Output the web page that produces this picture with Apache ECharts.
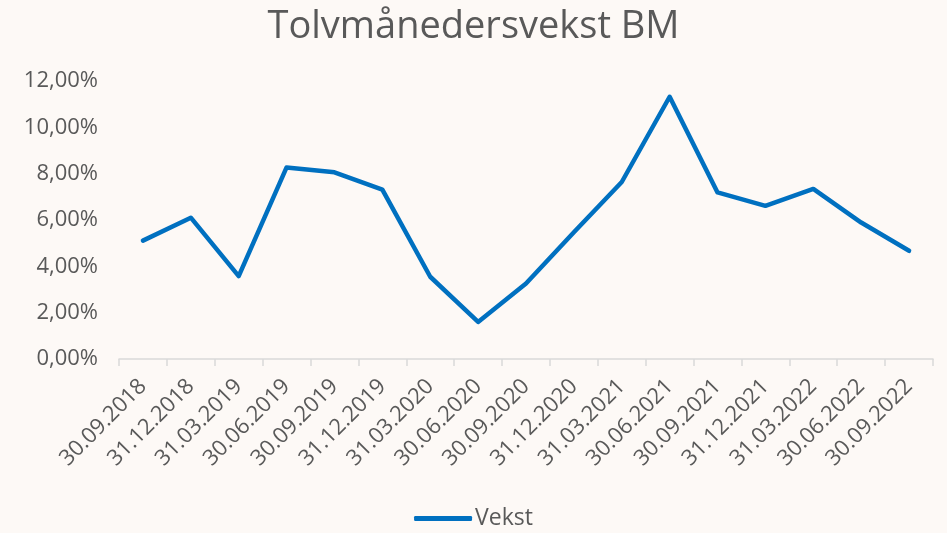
<!DOCTYPE html>
<html>
<head>
    <meta charset="utf-8">
    <title>Tolvmånedersvekst BM</title>
    <script src="https://cdn.jsdelivr.net/npm/echarts@6/dist/echarts.min.js"></script>
    <style>
        html, body { margin: 0; padding: 0; background: #fdf9f6; }
    </style>
</head>
<body>

<div id='line' style="width: 947px; height: 533px;"></div>
<script type="text/javascript">
    var datoer = ['30.09.2018', '31.12.2018', '31.03.2019', '30.06.2019', '30.09.2019', '31.12.2019',
        '31.03.2020', '30.06.2020', '30.09.2020', '31.12.2020', '31.03.2021', '30.06.2021',
        '30.09.2021', '31.12.2021', '31.03.2022', '30.06.2022', '30.09.2022'];
    var vekst = [5.11, 6.10, 3.58, 8.27, 8.06, 7.31, 3.55, 1.60, 3.26, 5.47, 7.64, 11.32,
        7.19, 6.61, 7.34, 5.89, 4.67];
    var yTicks = [0, 2, 4, 6, 8, 10, 12];

    var font = '"Open Sans", Lato, sans-serif';
    var grey = '#595959';

    var myLine = echarts.init(document.getElementById('line'));
    var lineOption = {
        backgroundColor: '#fdf9f6',
        title : {
            text : 'Tolvmånedersvekst BM',
            left : 'center',
            top : 3,
            textStyle : { fontFamily: font, fontSize: 38, fontWeight: 'normal', color: grey }
        },
        legend : {
            data : ['Vekst'],
            bottom : -2,
            left : 'center',
            itemWidth : 58,
            itemHeight : 5,
            itemGap : 4,
            icon : 'roundRect',
            textStyle : { fontFamily: font, fontSize: 23, color: grey, padding: [0, 0, 0, -2] }
        },
        grid : {
            left : 119,
            right : 14,
            top : 81,
            bottom : 174
        },
        xAxis : [ {
            type : 'category',
            boundaryGap : true,
            data : datoer,
            axisLine : { lineStyle: { color: '#d9d9d9', width: 1.5 } },
            axisTick : { show: true, length: 7, lineStyle: { color: '#d9d9d9', width: 1.5 } },
            axisLabel : {
                rotate : 45,
                interval : 0,
                margin : 24,
                fontFamily : font,
                fontSize : 22,
                color : grey
            },
            splitLine : { show: false }
        } ],
        yAxis : [ {
            type : 'value',
            min : yTicks[0],
            max : yTicks[yTicks.length - 1],
            interval : 2,
            axisLine : { show: false },
            axisTick : { show: false },
            splitLine : { show: false },
            axisLabel : {
                margin : 21,
                fontFamily : font,
                fontSize : 22,
                color : grey,
                formatter : function (v) { return v.toFixed(2).replace('.', ',') + '%'; }
            }
        } ],
        series : [ {
            name : 'Vekst',
            type : 'line',
            data : vekst,
            symbol : 'none',
            color : '#0070c0',
            lineStyle : { width: 4.5, color: '#0070c0', cap: 'round', join: 'round' }
        } ]
    };
    myLine.setOption(lineOption);
</script>
</body>
</html>
